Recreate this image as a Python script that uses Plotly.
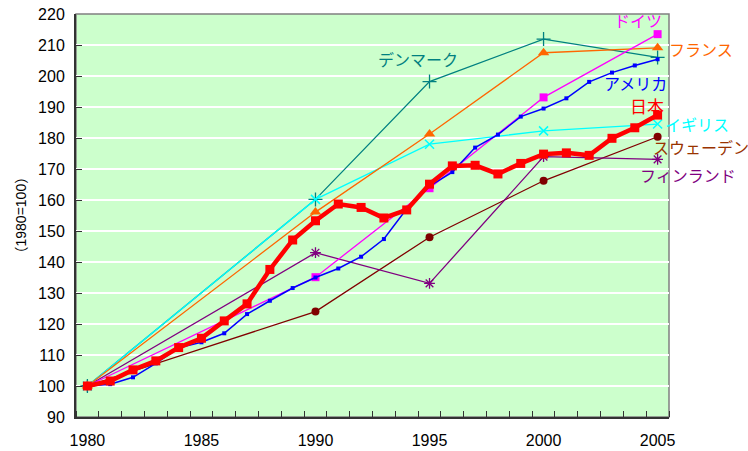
import plotly.graph_objects as go

years = list(range(1980, 2006))
years5 = [1980, 1990, 1995, 2000, 2005]

japan = [100, 101.6, 105.2, 108.1, 112.4, 115.4, 121.0, 126.5, 137.6, 147.1,
         153.3, 158.7, 157.6, 154.2, 156.8, 165.1, 171.0, 171.2, 168.4, 171.8,
         174.8, 175.2, 174.4, 179.9, 183.3, 187.4]
usa = [100, 100.6, 102.8, 107.3, 112.3, 114.1, 117.0, 123.2, 127.5, 131.6,
       135.0, 137.9, 141.7, 147.4, 157.2, 164.5, 169.0, 176.9, 181.1, 186.9,
       189.5, 192.8, 198.1, 201.1, 203.4, 205.4]
germany = [100, 135.1, 163.8, 193.1, 213.5]
france = [100, 156.1, 181.3, 207.5, 209.1]
denmark = [100, 160.2, 198.2, 211.9, 206.0]
uk = [100, 160.2, 178.0, 182.3, 184.5]
finland = [100, 143.0, 133.1, 174.0, 173.1]
sweden = [100, 124.0, 148.0, 166.2, 180.4]

labels = ["デンマーク", "ドイツ", "フランス", "アメリカ", "日本", "イギリス", "スウェーデン", "フィンランド"]
# label centres in page pixels
label_px = [418, 638, 701, 635, 647, 697, 701, 688]
label_py = [59, 20, 49, 83, 105, 124, 147, 175]
label_colors = ["#008080", "#FF00FF", "#FF6600", "#0000FF", "#FF0000", "#00FFFF", "#993300", "#800080"]
label_sizes = [16, 16, 16, 16, 17, 16, 16, 16]

L, R, T, B = 76, 669, 14, 417
W, H = 748, 451

fig = go.Figure()

def add(x, y, color, width, symbol, size, mline=None):
    fig.add_trace(go.Scatter(
        x=x, y=y, mode="lines+markers",
        line=dict(color=color, width=width),
        marker=dict(color=color, symbol=symbol, size=size,
                    line=dict(color=color, width=mline if mline else 0)),
        showlegend=False, cliponaxis=False, hoverinfo="skip"))

add(years5, sweden, "#800000", 1.3, "circle", 8)
add(years5, finland, "#800080", 1.3, "asterisk-open", 9, 1.3)
add(years5, denmark, "#008080", 1.3, "cross-thin-open", 10, 1.3)
add(years5, uk, "#00FFFF", 1.3, "x-thin-open", 9, 1.5)
add(years5, france, "#FF6600", 1.3, "triangle-up", 10)
add(years5, germany, "#FF00FF", 1.3, "square", 8)
add(years, usa, "#0000FF", 1.5, "square", 4)
add(years, japan, "#FF0000", 4.5, "square", 9)

for t, px, py, c, s in zip(labels, label_px, label_py, label_colors, label_sizes):
    fig.add_annotation(x=(px - L) / (R - L), y=(B - py) / (B - T),
                       xref="paper", yref="paper", text=t, showarrow=False,
                       font=dict(family="Noto Sans CJK JP", size=s, color=c),
                       xanchor="center", yanchor="middle", borderpad=0)

fig.add_annotation(x=(20 - L) / (R - L), y=0.5, xref="paper", yref="paper", text="（1980=100）",
                   showarrow=False, textangle=-90, xanchor="center", yanchor="middle",
                   font=dict(family="Liberation Sans, Noto Sans CJK JP", size=14, color="black"))

fig.add_shape(type="rect", xref="paper", yref="paper", x0=0, x1=1, y0=0, y1=1,
              line=dict(color="#808080", width=1.5), layer="below")

fig.update_layout(
    width=W, height=H,
    margin=dict(l=L, r=W - R, t=T, b=H - B, autoexpand=False),
    paper_bgcolor="white", plot_bgcolor="#CCFFCC",
    font=dict(family="Liberation Sans, Arial", color="black"),
    xaxis=dict(range=[1979.5, 2005.5], tickvals=[1980, 1985, 1990, 1995, 2000, 2005],
               ticks="", showgrid=False, zeroline=False, automargin=False,
               showline=True, linecolor="#333333", linewidth=2,
               tickfont=dict(size=16), ticklabelstandoff=8,
               minor=dict(tick0=1979.5, dtick=1, ticks="inside", ticklen=6,
                          tickcolor="#333333", tickwidth=1.2, showgrid=False)),
    yaxis=dict(range=[90, 220], dtick=10, tick0=90, ticks="inside", ticklen=6,
               tickcolor="#333333", tickwidth=1.2, automargin=False,
               showgrid=True, gridcolor="white", gridwidth=1.5, zeroline=False,
               showline=True, linecolor="#333333", linewidth=2,
               tickfont=dict(size=16), ticklabelstandoff=6),
)

fig.write_html("out.html", config={"displayModeBar": False},
               post_script="document.body.style.margin='0';")
